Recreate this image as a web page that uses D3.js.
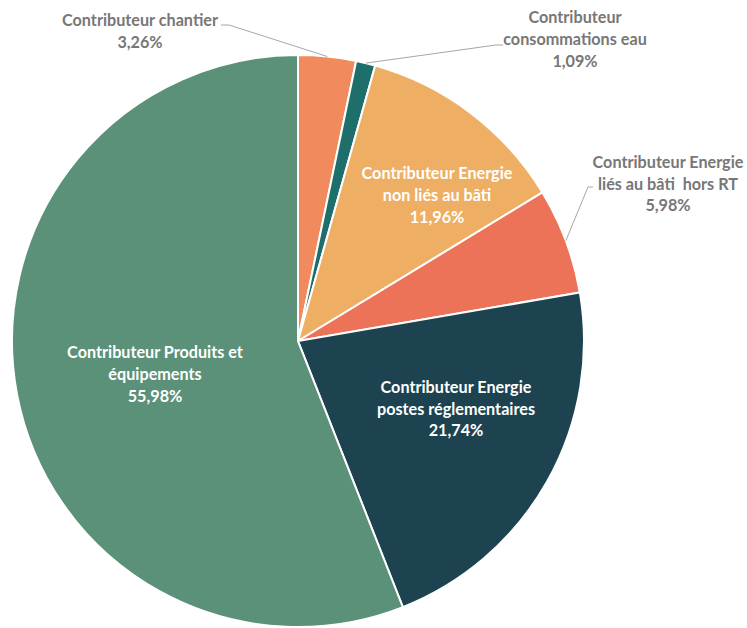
<!DOCTYPE html>
<html><head><meta charset="utf-8">
<script src="https://cdn.jsdelivr.net/npm/d3@7"></script>
<style>html,body{margin:0;padding:0;background:#fff} text{white-space:pre}</style>
</head><body>
<svg id="c" width="747" height="628"></svg>
<script>
const categories = ["Contributeur chantier","Contributeur consommations eau","Contributeur Energie non liés au bâti","Contributeur Energie liés au bâti  hors RT","Contributeur Energie postes réglementaires","Contributeur Produits et équipements"];
const values = [3.26, 1.09, 11.96, 5.98, 21.74, 55.98];
const valueLabels = ["3,26%","1,09%","11,96%","5,98%","21,74%","55,98%"];
const labelLines = [
  ["Contributeur chantier","3,26%"],
  ["Contributeur","consommations eau","1,09%"],
  ["Contributeur Energie","non liés au bâti","11,96%"],
  ["Contributeur Energie","liés au bâti  hors RT","5,98%"],
  ["Contributeur Energie","postes réglementaires","21,74%"],
  ["Contributeur Produits et","équipements","55,98%"]
];
const colors = ["#F18B5E","#1E6F6B","#EEAF64","#EC7358","#1D4351","#5A9178"];

const svg = d3.select("#c");
const cx = 298, cy = 341, R = 286;
const g = svg.append("g").attr("transform",`translate(${cx},${cy})`);
const pie = d3.pie().sort(null).value(d=>d)(values);
const arc = d3.arc().innerRadius(0).outerRadius(R);
g.selectAll("path").data(pie).join("path")
  .attr("d",arc).attr("fill",(d,i)=>colors[i])
  .attr("stroke","#fff").attr("stroke-width",2);

// label placement (center x, first baseline y)
const labelPos = [
  {x:140,y:26,inside:false},
  {x:575,y:23,inside:false},
  {x:437,y:179,inside:true},
  {x:668,y:168,inside:false},
  {x:456,y:393,inside:true},
  {x:155,y:358,inside:true}
];
const lh = [22,22,22,21.5,21.5,22];
const font = "Lato, 'Open Sans', sans-serif";
labelLines.forEach((lines,i)=>{
  const p = labelPos[i];
  const t = svg.append("text").attr("text-anchor","middle")
    .attr("font-family",font).attr("font-weight","bold").attr("font-size",16.2)
    .attr("fill", p.inside ? "#ffffff" : "#777777");
  lines.forEach((s,k)=>{
    t.append("tspan").attr("x",p.x).attr("y",p.y+k*lh[i]).text(s);
  });
});

// leader lines
const leaders = [
  {i:0, pts:[[221,25],[229,25]]},
  {i:1, pts:[[503,45],[496,45]]},
  {i:3, pts:[[593,187],[588,187]]}
];
leaders.forEach(l=>{
  const d = pie[l.i];
  const a = (d.startAngle + d.endAngle)/2;
  const ex = cx + Math.sin(a)*R, ey = cy - Math.cos(a)*R;
  const pts = l.pts.concat([[ex,ey]]);
  svg.append("path").attr("d",d3.line()(pts))
    .attr("fill","none").attr("stroke","#A6A6A6").attr("stroke-width",1);
});
</script>
</body></html>
